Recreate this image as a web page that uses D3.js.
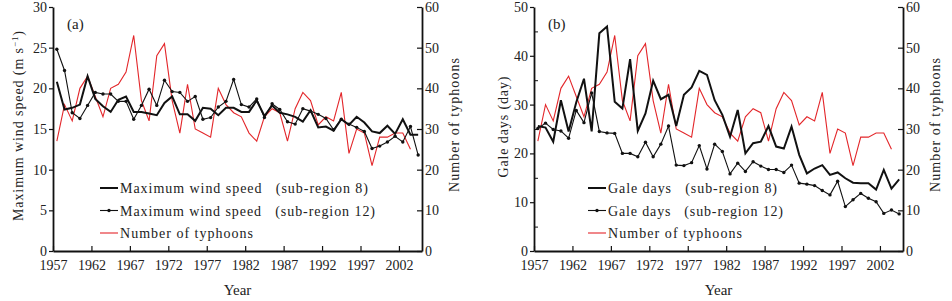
<!DOCTYPE html>
<html>
<head>
<meta charset="utf-8">
<script src="https://cdn.jsdelivr.net/npm/d3@7"></script>
<style>
  body { margin: 0; background: #fff; }
  svg { display: block; }
  text { font-family: "Liberation Serif", "DejaVu Serif", serif; fill: #222; }
</style>
</head>
<body>
<div id="chart"></div>
<script>
const years = [1957, 1958, 1959, 1960, 1961, 1962, 1963, 1964, 1965, 1966, 1967, 1968,
  1969, 1970, 1971, 1972, 1973, 1974, 1975, 1976, 1977, 1978, 1979, 1980,
  1981, 1982, 1983, 1984, 1985, 1986, 1987, 1988, 1989, 1990, 1991, 1992,
  1993, 1994, 1995, 1996, 1997, 1998, 1999, 2000, 2001, 2002, 2003, 2004];
const yearTicks = [1957, 1962, 1967, 1972, 1977, 1982, 1987, 1992, 1997, 2002];

// number of typhoons (1957-2003), right axis of both panels
const typhoons = [27, 36, 32, 40, 43, 38, 33, 40, 41, 44, 53, 37, 32, 48, 51, 37,
  29, 41, 30, 29, 28, 40, 36, 34, 33, 29, 27, 33, 35, 34, 27, 35, 39, 37, 31, 33,
  32, 39, 24, 30, 29, 21, 28, 28, 29, 29, 25];

// (a) maximum wind speed, m/s
const windSub8 = [20.8, 17.4, 17.6, 18.0, 21.5, 18.7, 17.8, 17.1, 18.6, 19.0, 17.1, 17.1,
  16.9, 16.7, 18.2, 19.0, 16.8, 16.8, 16.0, 17.6, 17.5, 16.7, 17.6, 17.6,
  17.1, 17.1, 18.5, 16.6, 17.9, 17.0, 16.8, 16.5, 15.9, 17.3, 15.2, 15.3,
  14.8, 16.2, 15.5, 16.5, 15.8, 14.7, 14.5, 15.4, 14.4, 16.2, 14.3, 14.3];
const windSub12 = [24.8, 22.2, 17.0, 16.3, 17.9, 19.5, 19.3, 19.3, 18.4, 18.4, 16.2, 17.9,
  19.9, 17.9, 21.0, 19.6, 19.5, 18.4, 19.0, 16.2, 16.4, 17.7, 18.4, 21.1,
  18.0, 17.7, 18.7, 16.4, 18.1, 17.4, 15.9, 15.6, 17.5, 17.2, 16.8, 16.3,
  14.9, 16.2, 15.6, 15.2, 14.7, 12.6, 12.9, 13.4, 14.1, 13.4, 15.3, 11.8];

// (b) gale days
const galeSub8 = [25.6, 25.3, 22.4, 30.9, 24.5, 30.5, 35.3, 24.5, 44.6, 46.0, 30.6, 29.2,
  39.3, 24.6, 28.2, 34.9, 31.1, 32.0, 25.6, 32.0, 33.5, 36.9, 36.1, 30.9,
  27.9, 23.4, 28.9, 20.0, 22.1, 22.4, 25.6, 21.4, 21.0, 25.5, 19.7, 15.9,
  16.9, 17.6, 15.6, 16.1, 14.9, 14.0, 13.9, 13.9, 12.6, 16.6, 12.8, 14.7];
const galeSub12 = [25.1, 26.2, 24.9, 24.6, 23.1, 28.8, 26.3, 32.4, 24.5, 24.2, 24.1, 20.0,
  20.0, 19.3, 22.3, 19.3, 21.9, 25.6, 17.6, 17.5, 18.1, 21.6, 16.8, 21.9,
  20.4, 15.8, 18.0, 16.3, 18.3, 17.4, 16.7, 16.7, 16.1, 17.6, 13.9, 13.7,
  13.4, 12.4, 11.5, 14.3, 9.1, 10.5, 11.8, 10.8, 10.1, 7.7, 8.4, 7.6];

const svg = d3.select('#chart').append('svg')
  .attr('width', 952)
  .attr('height', 301);

const red = '#e3262a';
const plotTop = 7, plotBottom = 251;

function drawPanel(p) {
  const g = svg.append('g');

  const x = d3.scaleLinear().domain([1957, 2005]).range([p.left, p.right]);
  const yL = d3.scaleLinear().domain([0, p.leftMax]).range([plotBottom, plotTop]);
  const yR = d3.scaleLinear().domain([0, 60]).range([plotBottom, plotTop]);
  const xc = d => x(d + 0.5); // values sit in the middle of the year

  // axes
  const bAxis = g.append('g')
    .attr('transform', `translate(0,${plotBottom})`)
    .call(d3.axisBottom(x).tickValues(yearTicks).tickFormat(d3.format('d'))
      .tickSize(-5).tickSizeOuter(0).tickPadding(9));
  const lAxis = g.append('g')
    .attr('transform', `translate(${p.left},0)`)
    .call(d3.axisLeft(yL).tickValues(p.leftTicks).tickSize(4).tickSizeOuter(0).tickPadding(2));
  const rAxis = g.append('g')
    .attr('transform', `translate(${p.right},0)`)
    .call(d3.axisRight(yR).tickValues([0, 10, 20, 30, 40, 50, 60]).tickSize(-5).tickSizeOuter(0).tickPadding(3));

  if (p.leftMinor) {
    g.append('g')
      .attr('transform', `translate(${p.left},0)`)
      .call(d3.axisLeft(yL).tickValues(p.leftMinor).tickSize(-4).tickFormat(''))
      .select('.domain').remove();
  }

  [bAxis, lAxis, rAxis].forEach(a => {
    a.attr('font-family', null).attr('font-size', null);
    a.selectAll('text').style('font-size', '14px');
    a.selectAll('line').attr('stroke', '#111').attr('stroke-width', 1.2);
    a.select('.domain').attr('stroke', '#111').attr('stroke-width', 1.8);
  });
  g.selectAll('.tick line').attr('stroke', '#111');

  // lines
  const lineL = d3.line().x((d, i) => xc(years[i])).y(d => yL(d));
  const lineR = d3.line().x((d, i) => xc(years[i])).y(d => yR(d));

  g.append('path').datum(typhoons)
    .attr('d', lineR).attr('fill', 'none').attr('stroke', red).attr('stroke-width', 1.1);

  g.append('path').datum(p.s12)
    .attr('d', lineL).attr('fill', 'none').attr('stroke', '#111').attr('stroke-width', 1.1);
  g.append('g').selectAll('circle').data(p.s12).join('circle')
    .attr('cx', (d, i) => xc(years[i]))
    .attr('cy', d => yL(d))
    .attr('r', 1.7)
    .attr('fill', '#111');

  g.append('path').datum(p.s8)
    .attr('d', lineL).attr('fill', 'none').attr('stroke', '#111').attr('stroke-width', 2)
    .attr('stroke-linejoin', 'miter');

  // labels
  g.append('text')
    .attr('x', p.left + 14).attr('y', 29)
    .style('font-size', '15px')
    .text(p.tag);

  g.append('text')
    .attr('x', (p.left + p.right) / 2).attr('y', 295)
    .attr('text-anchor', 'middle')
    .style('font-size', '15px')
    .text('Year');

  const yl = g.append('text')
    .attr('transform', `translate(${p.yLabelX},${p.yLabelMid}) rotate(-90)`)
    .attr('text-anchor', 'middle')
    .attr('textLength', p.yLabelLen)
    .attr('lengthAdjust', 'spacing')
    .style('font-size', '14px');
  yl.append('tspan').text(p.yLabel);
  if (p.yLabelSup) {
    yl.append('tspan').attr('dy', -5).style('font-size', '9px').text(p.yLabelSup);
    yl.append('tspan').attr('dy', 5).text(')');
  }

  g.append('text')
    .attr('transform', `translate(${p.right + 37},125) rotate(-90)`)
    .attr('text-anchor', 'middle')
    .attr('textLength', 134)
    .attr('lengthAdjust', 'spacing')
    .style('font-size', '14px')
    .text('Number of typhoons');

  // legend
  const legX = p.legX;
  const rows = [
    { text: p.legend[0], len: p.legLen[0], stroke: '#111', w: 2, dot: false },
    { text: p.legend[1], len: p.legLen[1], stroke: '#111', w: 1.1, dot: true },
    { text: 'Number of typhoons', len: p.legLen[2], stroke: red, w: 1.1, dot: false }
  ];
  rows.forEach((r, i) => {
    const yy = 188 + i * 22.5;
    g.append('line')
      .attr('x1', legX).attr('x2', legX + 18)
      .attr('y1', yy).attr('y2', yy)
      .attr('stroke', r.stroke).attr('stroke-width', r.w);
    if (r.dot) {
      g.append('circle').attr('cx', legX + 9).attr('cy', yy).attr('r', 1.7).attr('fill', '#111');
    }
    g.append('text')
      .attr('x', legX + 20).attr('y', yy + 5)
      .attr('textLength', r.len)
      .attr('lengthAdjust', 'spacing')
      .style('font-size', '14px')
      .style('white-space', 'pre')
      .text(r.text);
  });
}

drawPanel({
  left: 53, right: 422, leftMax: 30,
  leftTicks: [0, 5, 10, 15, 20, 25, 30],
  s8: windSub8, s12: windSub12, tag: '(a)',
  yLabel: 'Maximum wind speed (m s', yLabelSup: '\u22121',
  yLabelX: 23, yLabelMid: 126, yLabelLen: 190,
  legX: 100,
  legend: ['Maximum wind speed   (sub-region 8)', 'Maximum wind speed   (sub-region 12)'],
  legLen: [248, 255, 133]
});

drawPanel({
  left: 534, right: 903, leftMax: 50,
  leftTicks: [0, 10, 20, 30, 40, 50],
  leftMinor: [5, 15, 25, 35, 45],
  s8: galeSub8, s12: galeSub12, tag: '(b)',
  yLabel: 'Gale days (day)',
  yLabelX: 508, yLabelMid: 127, yLabelLen: 101,
  legX: 588,
  legend: ['Gale days   (sub-region 8)', 'Gale days   (sub-region 12)'],
  legLen: [169, 175, 134]
});
</script>
</body>
</html>
